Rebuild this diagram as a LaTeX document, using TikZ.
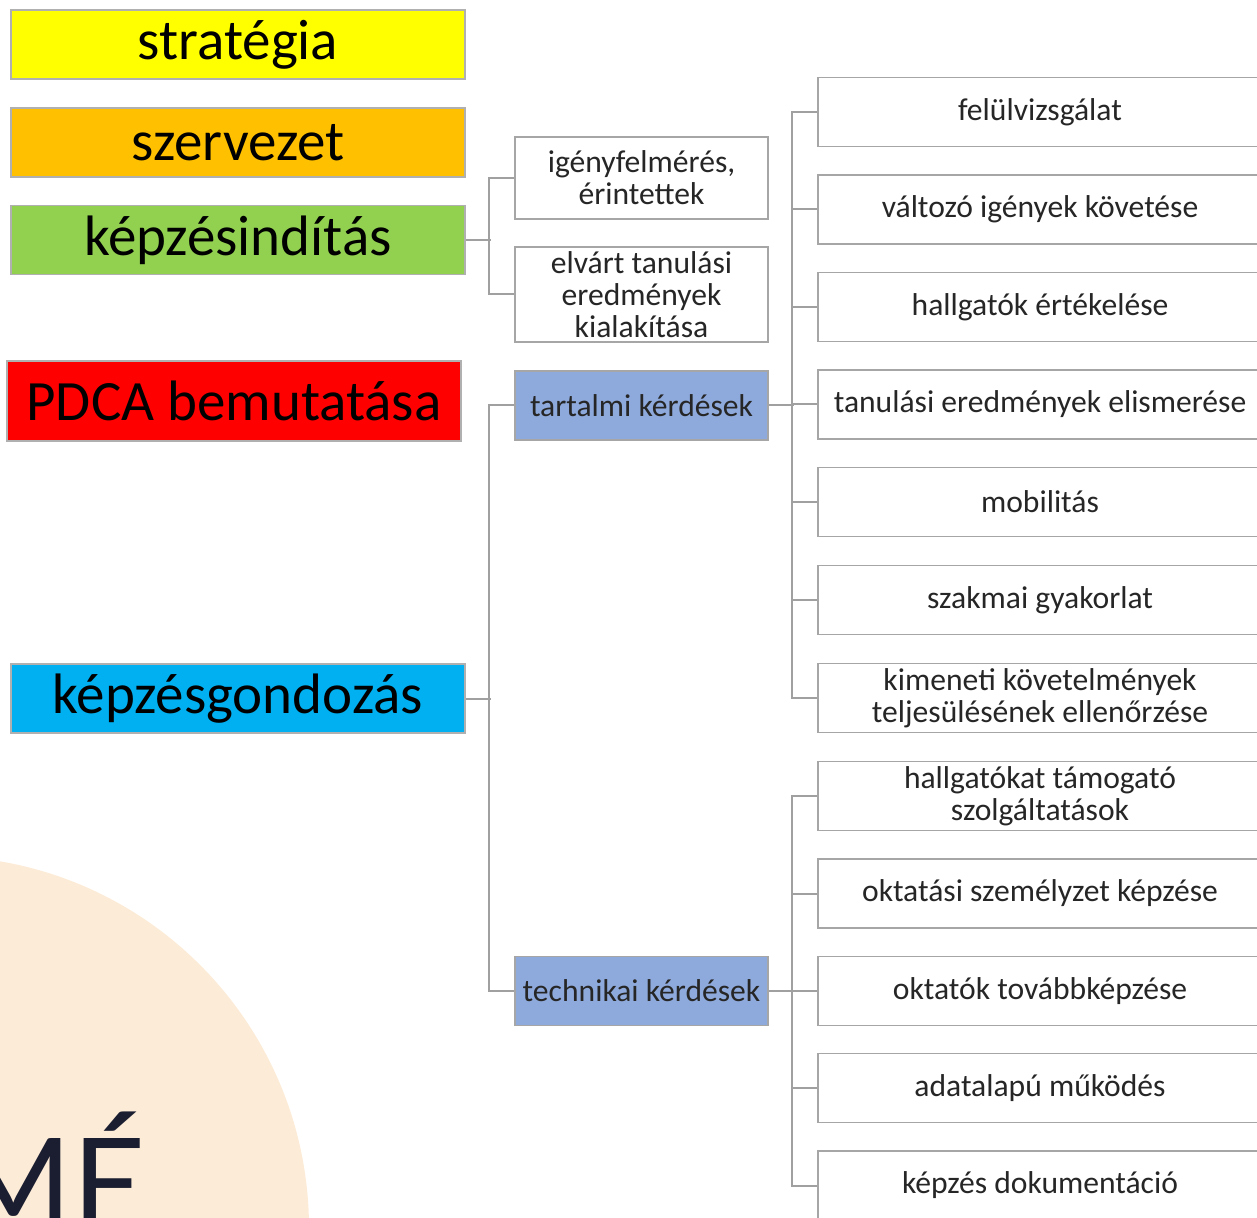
\documentclass[tikz,border=0pt]{standalone}
\usepackage{fontspec}
\setmainfont{Carlito}
\newfontfamily\latofont{Lato}
\definecolor{cyel}{HTML}{FFFF00}
\definecolor{corg}{HTML}{FFC000}
\definecolor{cgrn}{HTML}{92D050}
\definecolor{cred}{HTML}{FF0000}
\definecolor{cblu}{HTML}{00B0F0}
\definecolor{ctart}{HTML}{8EA9DB}
\definecolor{lgray}{HTML}{B0B0B0}
\definecolor{bgray}{HTML}{A6A6A6}
\definecolor{cgray}{HTML}{A0A0A0}
\definecolor{txt}{HTML}{262626}
\definecolor{peach}{HTML}{FCEBD7}
\definecolor{navy}{HTML}{1B1E30}
\begin{document}
\begin{tikzpicture}[x=0.5pt,y=-0.5pt,
  lbox/.style={draw=lgray, line width=0.9pt, minimum width=227pt, minimum height=34.5pt, inner sep=0pt, font=\fontsize{28.5}{30}\selectfont, text=black},
  mbox/.style={draw=bgray, line width=0.9pt, fill=white, minimum width=126.5pt, inner sep=0pt, align=center, font=\fontsize{15.8}{16}\selectfont, text=txt},
  rbox/.style={draw=bgray, line width=0.9pt, fill=white, minimum width=222pt, minimum height=34.5pt, inner sep=0pt, align=center, font=\fontsize{15.8}{16}\selectfont, text=txt},
  conn/.style={draw=cgray, line width=1pt}]
\useasboundingbox (0,0) rectangle (1257,1218);
\clip (0,0) rectangle (1257,1218);
% background decoration
\fill[peach] (-63,1228) circle[radius=186pt];
\node[anchor=base east, inner sep=0pt, text=navy, font={\latofont\fontsize{63.5}{64}\selectfont}] (me) at (146,1229) {MÉ};
% left column
\node[lbox, fill=cyel] (strat) at (238,44.5) {stratégia};
\node[lbox, fill=corg] (szerv) at (238,142.5) {szervezet};
\node[lbox, fill=cgrn] (ind) at (238,240) {képzésindítás};
\node[lbox, fill=cred, minimum height=40pt] (pdca) at (234,401) {PDCA bemutatása};
\node[lbox, fill=cblu] (gond) at (238,698.5) {képzésgondozás};
% middle column
\node[mbox, minimum height=41pt] (igeny) at (641.5,178) {igényfelmérés,\\érintettek};
\node[mbox, minimum height=47.5pt] (elvart) at (641.5,294.5) {elvárt tanulási\\eredmények\\kialakítása};
\node[mbox, fill=ctart, minimum height=34.5pt] (tart) at (641.5,405.5) {tartalmi kérdések};
\node[mbox, fill=ctart, minimum height=34.5pt] (tech) at (641.5,991) {technikai kérdések};
% right column
\node[rbox] (r1) at (1040,112) {felülvizsgálat};
\node[rbox] (r2) at (1040,209.5) {változó igények követése};
\node[rbox] (r3) at (1040,307) {hallgatók értékelése};
\node[rbox] (r4) at (1040,404.5) {tanulási eredmények elismerése};
\node[rbox] (r5) at (1040,502) {mobilitás};
\node[rbox] (r6) at (1040,600) {szakmai gyakorlat};
\node[rbox] (r7) at (1040,698) {kimeneti követelmények\\teljesülésének ellenőrzése};
\node[rbox] (r8) at (1040,796) {hallgatókat támogató\\szolgáltatások};
\node[rbox] (r9) at (1040,893.5) {oktatási személyzet képzése};
\node[rbox] (r10) at (1040,991) {oktatók továbbképzése};
\node[rbox] (r11) at (1040,1088) {adatalapú működés};
\node[rbox] (r12) at (1040,1185.5) {képzés dokumentáció};
% connectors
\draw[conn] (ind.east) -- ++(25,0);
\draw[conn] (igeny.west) -- ++(-25,0) |- (elvart.west);
\draw[conn] (gond.east) -- ++(25,0);
\draw[conn] (tart.west) -- ++(-25,0) |- (tech.west);
\draw[conn] (tart.east) -- ++(25,0);
\draw[conn] (r1.west) -- ++(-25,0) |- (r7.west);
\foreach \n in {r2,r3,r4,r5,r6} \draw[conn] (\n.west) -- ++(-25,0);
\draw[conn] (tech.east) -- ++(25,0);
\draw[conn] (r8.west) -- ++(-25,0) |- (r12.west);
\foreach \n in {r9,r10,r11} \draw[conn] (\n.west) -- ++(-25,0);
\end{tikzpicture}
\end{document}
